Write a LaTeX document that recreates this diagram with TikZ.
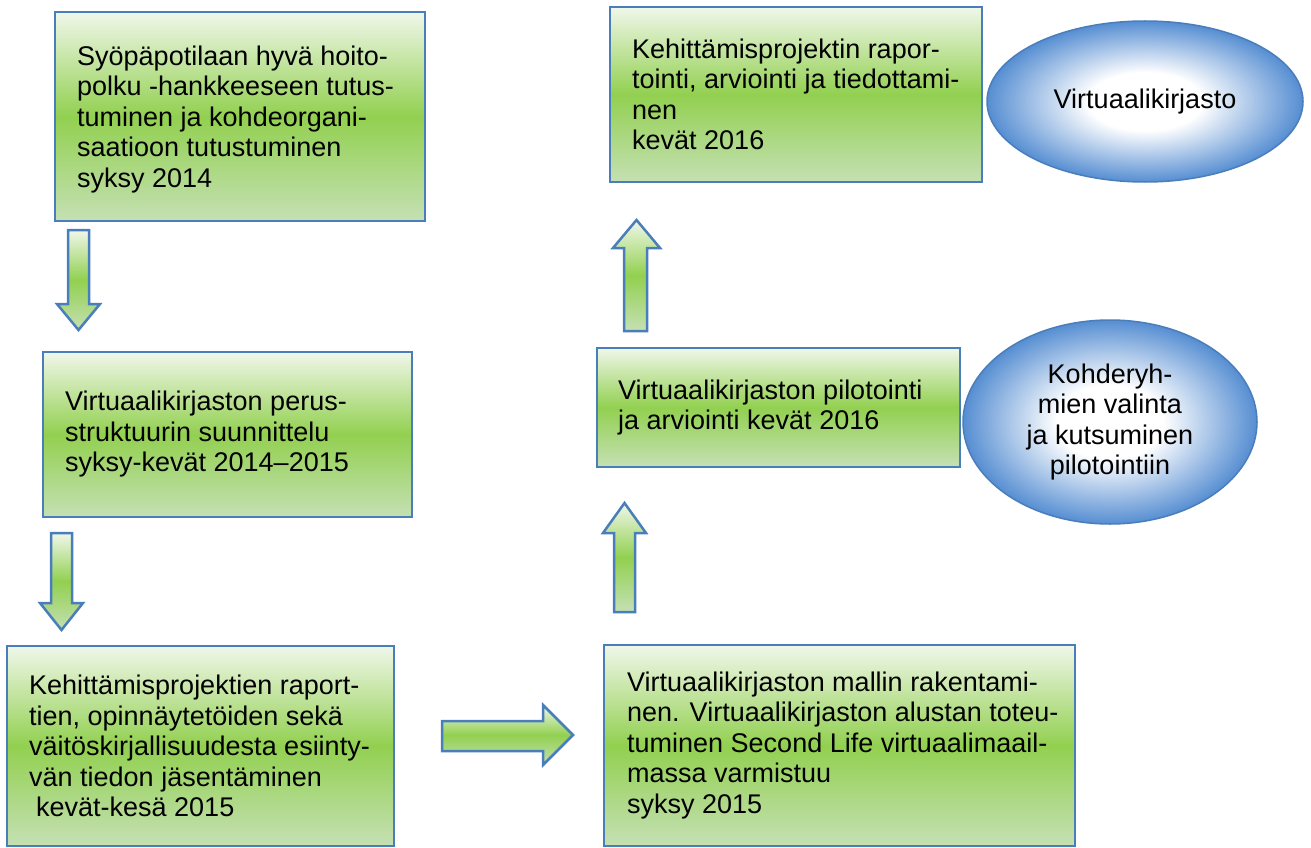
\documentclass[tikz,border=0pt]{standalone}
\usepackage{fontspec}
\setmainfont{Liberation Sans}
\usetikzlibrary{shapes.geometric}
\definecolor{gtop}{RGB}{240,247,234}
\definecolor{gmid}{RGB}{146,208,80}
\definecolor{gbot}{RGB}{197,224,180}
\definecolor{bcol}{RGB}{74,126,187}
\definecolor{eblue}{RGB}{86,142,210}
\pgfdeclareradialshading{ellshade}{\pgfpoint{0bp}{0bp}}{color(0bp)=(white); color(9bp)=(white); color(25bp)=(eblue); color(50bp)=(eblue)}
\begin{document}
\begin{tikzpicture}[x=1pt,y=-1pt,
  gbox/.style={draw=bcol, line width=2.5pt, top color=gtop, bottom color=gbot, middle color=gmid, inner sep=0pt, outer sep=0pt},
  txt/.style={font=\fontsize{27}{30.5}\selectfont, align=left, inner sep=0pt, anchor=west},
  ell/.style={ellipse, draw=bcol, line width=1.5pt, shading=ellshade, inner sep=0pt, font=\fontsize{27}{30.5}\selectfont, align=center},
  barrow/.style={draw=bcol, line width=2.5pt, line join=miter, top color=gtop, bottom color=gbot, middle color=gmid}]
\useasboundingbox (0,0) rectangle (1311,848);
% boxes
\node[gbox, minimum width=370pt, minimum height=209pt] (b1) at (240,116.5) {};
\node[gbox, minimum width=369pt, minimum height=165pt] (b2) at (227.5,434.5) {};
\node[gbox, minimum width=387pt, minimum height=200pt] (b3) at (200.5,746) {};
\node[gbox, minimum width=471pt, minimum height=201pt] (b4) at (839.5,745.5) {};
\node[gbox, minimum width=363pt, minimum height=119pt] (b5) at (778.5,407.5) {};
\node[gbox, minimum width=372pt, minimum height=175pt] (b6) at (796,94.5) {};
% texts
\node[txt] (t1) at ([xshift=22pt,yshift=-3pt]b1.west) {Syöpäpotilaan hyvä hoito-\\polku -hankkeeseen tutus-\\tuminen ja kohdeorgani-\\saatioon tutustuminen\\syksy 2014};
\node[txt] (t2) at ([xshift=22pt]b2.west) {Virtuaalikirjaston perus-\\struktuurin suunnittelu\\syksy-kevät 2014–2015};
\node[txt] (t3) at ([xshift=22pt]b3.west) {Kehittämisprojektien raport-\\tien, opinnäytetöiden sekä\\väitöskirjallisuudesta esiinty-\\vän tiedon jäsentäminen\\\hspace*{7pt}kevät-kesä 2015};
\node[txt] (t4) at ([xshift=23pt]b4.west) {Virtuaalikirjaston mallin rakentami-\\nen. Virtuaalikirjaston alustan toteu-\\tuminen Second Life virtuaalimaail-\\massa varmistuu\\syksy 2015};
\node[txt] (t5) at ([xshift=21pt]b5.west) {Virtuaalikirjaston pilotointi\\ja arviointi kevät 2016};
\node[txt] (t6) at ([xshift=22pt]b6.west) {Kehittämisprojektin rapor-\\tointi, arviointi ja tiedottami-\\nen\\kevät 2016};
% ellipses
\node[ell, minimum width=316pt, minimum height=161pt] (e1) at (1145,101.5) {Virtuaalikirjasto};
\node[ell, minimum width=294pt, minimum height=204pt] (e2) at (1110,422) {Kohderyh-\\mien valinta\\ja kutsuminen\\pilotointiin};
% block arrows
\path[barrow] (68,230) -- (89,230) -- (89,304) -- (100,304) -- (78.5,330) -- (57,304) -- (68,304) -- cycle;
\path[barrow] (51,533) -- (72,533) -- (72,603) -- (83,603) -- (61.5,630) -- (40,603) -- (51,603) -- cycle;
\path[barrow] (442,721) -- (543,721) -- (543,705) -- (573,735) -- (543,765) -- (543,751) -- (442,751) -- cycle;
\path[barrow] (614,612) -- (614,533) -- (603,533) -- (624.5,503) -- (646,533) -- (635,533) -- (635,612) -- cycle;
\path[barrow] (624,331) -- (624,248) -- (613,248) -- (636.5,220) -- (660,248) -- (647,248) -- (647,331) -- cycle;
\end{tikzpicture}
\end{document}
